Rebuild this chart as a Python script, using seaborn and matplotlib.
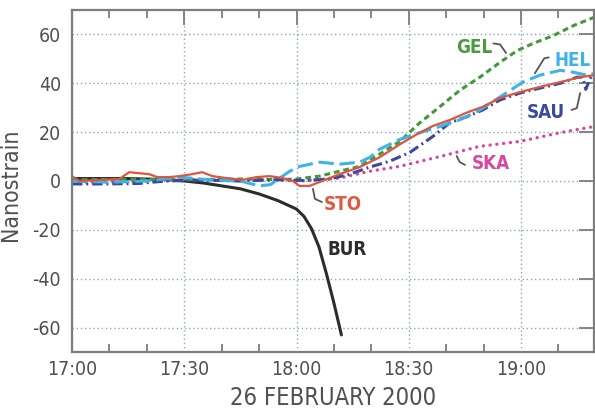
import matplotlib
matplotlib.use("Agg")
import matplotlib.pyplot as plt
from matplotlib.ticker import MultipleLocator, FixedLocator
import seaborn as sns
import pandas as pd

# ---- data (minutes after 17:00, nanostrain) ----
BUR_t = [0, 15, 25, 30, 35, 40, 45, 50, 55, 60, 62, 64, 66, 68, 70, 72]
BUR_v = [1, 1, 0.6, 0, -0.8, -2, -3.2, -5.3, -8, -11.5, -14.5, -19.5, -27, -38, -50, -63]

SKA_t = [0, 15, 30, 45, 55, 60.8, 71.5, 79.6, 87.6, 98.3, 109, 119.7, 130.5, 139.5]
SKA_v = [-0.5, -0.3, 0.3, 0.4, 0.5, 0, 1.2, 4, 6, 10, 14.2, 16.2, 19.8, 22.3]

GEL_t = [0, 15, 30, 45, 55, 60, 66.2, 71.5, 76.9, 82.2, 87.6, 93, 98.3, 103.7, 109,
         114.4, 119, 123.2, 128.6, 134, 139.5]
GEL_v = [0.5, 0.7, 0.5, 0.8, 0.6, 0.8, 2, 4, 6, 11, 16.2, 23.9, 30.4, 37.2, 42.5,
         48.6, 53.4, 56.3, 59.5, 63.6, 67]

SAU_t = [0, 10, 18, 25, 35, 45, 55, 62, 68.8, 74.2, 79.6, 84.9, 90.3, 96.4, 101,
         105.5, 109.8, 114.4, 119.7, 125, 130.5, 135, 136.5, 137.3, 138.5, 139.5]
SAU_v = [-1.2, -1.2, -1, 0, 0.4, 0, 0.5, 0.2, 0.8, 2.8, 5.7, 8.1, 11.7, 18.2, 23.9,
         26.3, 29.1, 33.2, 36, 38, 40, 42.5, 42.5, 37.5, 42, 43.5]

HEL_t = [0, 10, 20, 28.7, 37.5, 45, 50, 53, 56.3, 58.2, 60.9, 66.2, 71.5, 76.9, 79.6,
         82.2, 87.6, 93, 98.3, 103.7, 109, 114.4, 120.5, 125, 130.5, 134, 137.7, 139.5]
HEL_v = [0, -0.5, 0, 1.6, 0.4, 0, -2, -1.5, 2, 4, 6, 7.7, 6.9, 7.7, 9.7,
         13, 17, 19.8, 22.3, 25.1, 29.1, 34.4, 40.5, 43.3, 45.3, 44.5, 43.3, 44]

STO_t = [0, 2, 8, 12.6, 15.3, 17.9, 20.6, 22.8, 26, 28.7, 32.1, 34.8, 37.5, 41.3, 45.5,
         49.3, 52.8, 56.3, 59, 60.8, 63.5, 66.2, 71.5, 76.9, 82.2, 87.6, 92, 96.4, 101,
         105.5, 109.8, 114.4, 119.7, 125, 130.5, 135.8, 139.5]
STO_v = [2, 0, 0.5, 0.8, 3.6, 3.2, 2.8, 1.6, 1.6, 2, 2.8, 3.6, 2, 1.2, 0.4,
         1.6, 2, 1.2, 0, -2, -2, -0.4, 2.8, 5.7, 9.7, 15, 19, 22.5, 25,
         28, 30.4, 34, 36.4, 38.5, 40.5, 42.5, 43.3]

x_tick_minutes = [0, 30, 60, 90, 120]
x_tick_labels = ["17:00", "17:30", "18:00", "18:30", "19:00"]
y_ticks = [-60, -40, -20, 0, 20, 40, 60]

# label positions (minutes, value) and leader lines
label_names = ["GEL", "HEL", "SAU", "SKA", "STO", "BUR"]
label_pos = [(107.4, 54.7), (133.8, 49.4), (126.6, 27.9), (111.9, 7.3), (72.4, -9.7), (73.5, -27.9)]
leaders = {
    "GEL": [(112.6, 56.3), (114.4, 55.9), (116.0, 52.4)],
    "HEL": [(127.4, 50.6), (126.2, 50.2), (123.7, 44.1)],
    "SAU": [(133.5, 29.1), (134.9, 29.8), (135.8, 36.0)],
    "SKA": [(102.8, 10.2), (103.6, 7.8), (105.0, 6.6)],
    "STO": [(64.4, -3.2), (64.9, -7.3), (66.8, -8.6)],
}

# ---- styling ----
sns.set_theme(style="white")
FONT = ["DejaVu Sans"]
plt.rcParams["font.family"] = FONT
plt.rcParams["font.stretch"] = "condensed"
plt.rcParams["lines.scale_dashes"] = False
plt.rcParams["axes.unicode_minus"] = False

colors = {
    "BUR": "#2b2d2d", "SKA": "#d6489b", "GEL": "#44973b",
    "SAU": "#3a4a9e", "HEL": "#3fb2ea", "STO": "#de553d",
}
text_colors = {
    "BUR": "#2b2d2d", "SKA": "#d6489b", "GEL": "#4a9a3e",
    "SAU": "#3a4a9e", "HEL": "#3fb2ea", "STO": "#e0583f",
}

fig = plt.figure(figsize=(5.95, 4.09), dpi=100)
ax = fig.add_axes([72 / 595, 1 - 352 / 409, (594 - 72) / 595, (352 - 10) / 409])

series = [
    ("BUR", BUR_t, BUR_v, 2.2, None),
    ("SKA", SKA_t, SKA_v, 2.4, (0.1, 4.8)),
    ("GEL", GEL_t, GEL_v, 2.2, (4.2, 2.8)),
    ("SAU", SAU_t, SAU_v, 2.2, (7.5, 2.8, 1.4, 2.8)),
    ("HEL", HEL_t, HEL_v, 2.2, (11, 4.2)),
    ("STO", STO_t, STO_v, 1.6, None),
]
for name, t, v, lw, dash in series:
    df = pd.DataFrame({"t": t, "v": v})
    sns.lineplot(data=df, x="t", y="v", ax=ax, color=colors[name], linewidth=lw,
                 sort=False, estimator=None, legend=False)
    ln = ax.lines[-1]
    if dash is not None:
        ln.set_dashes(dash)
        if name == "SKA":
            ln.set_dash_capstyle("round")

ax.set_xlim(0, 139.5)
ax.set_ylim(-70, 70)

ax.xaxis.set_major_locator(FixedLocator(x_tick_minutes))
ax.set_xticklabels(x_tick_labels)
ax.xaxis.set_minor_locator(MultipleLocator(10))
ax.yaxis.set_major_locator(FixedLocator(y_ticks))

spine_col = "#7d7d7d"
for s in ax.spines.values():
    s.set_visible(True)
    s.set_color(spine_col)
    s.set_linewidth(1.6)

ax.tick_params(axis="both", which="major", direction="in", length=11, width=1.3,
               color=spine_col, top=True, right=True, labelsize=14,
               labelcolor="#505050")
ax.tick_params(axis="x", which="major", pad=6)
ax.tick_params(axis="y", which="major", pad=8)
ax.tick_params(axis="x", which="minor", direction="in", length=6, width=1.3,
               color=spine_col, top=True, bottom=True)
for lab in ax.get_xticklabels() + ax.get_yticklabels():
    lab.set_fontstretch("condensed")

ax.grid(True, which="major", color="#8aa6b8", linewidth=1.0, linestyle=(0, (1, 2)))
ax.set_axisbelow(True)

ax.set_xlabel("26 FEBRUARY 2000", fontsize=17, color="#505050", labelpad=5,
              fontstretch="condensed")
ax.set_ylabel("Nanostrain", fontsize=16.5, color="#505050",
              fontstretch="condensed")
ax.yaxis.set_label_coords(-0.096, 0.49)

for name, (lx, ly) in zip(label_names, label_pos):
    ax.text(lx, ly, name, color=text_colors[name], fontsize=13.5, fontweight="bold",
            ha="center", va="center", fontstretch="condensed")
for name, pts in leaders.items():
    xs = [p[0] for p in pts]
    ys = [p[1] for p in pts]
    ax.plot(xs, ys, color="#555555", linewidth=1.3, solid_capstyle="round")

fig.savefig("out.png", dpi=100)
